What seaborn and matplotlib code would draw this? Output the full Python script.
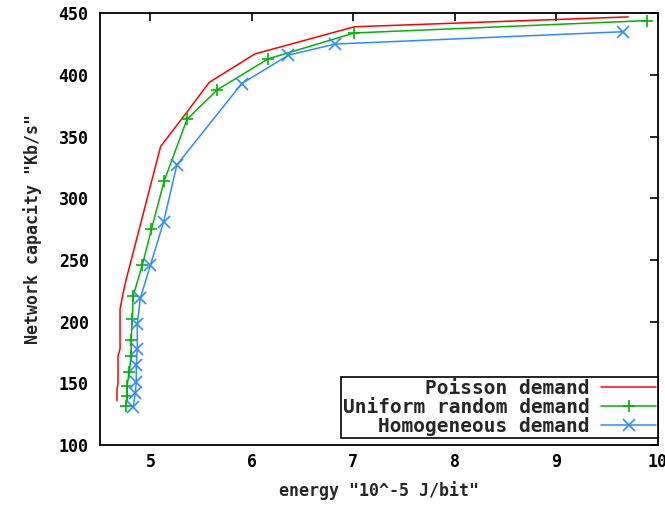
import matplotlib
matplotlib.use("Agg")
import matplotlib.pyplot as plt
import pandas as pd
import seaborn as sns

# energy (10^-5 J/bit) vs network capacity (Kb/s)
poisson_energy = [4.67, 4.67, 4.68, 4.68, 4.70, 4.70, 4.73, 4.76, 5.10, 5.37, 5.58, 6.03, 7.01, 9.71]
poisson_capacity = [136, 145, 150, 172, 178, 210, 223, 234, 342, 371, 394, 417, 439, 447]

uniform_energy = [4.76, 4.77, 4.77, 4.79, 4.81, 4.81, 4.82, 4.83, 4.92, 5.01, 5.135, 5.36, 5.66, 6.16, 7.01, 9.89]
uniform_capacity = [132, 140, 148, 159, 172, 185, 202, 221, 246, 275, 314, 364, 388, 413, 434, 444]

homog_energy = [4.83, 4.85, 4.86, 4.86, 4.87, 4.87, 4.90, 5.00, 5.13, 5.26, 5.90, 6.36, 6.82, 9.66]
homog_capacity = [131, 142, 151, 165, 178, 198, 219, 246, 281, 327, 393, 416, 425, 435]

labels = ["Poisson demand", "Uniform random demand", "Homogeneous demand"]
colors = ["#ff0000", "#00b400", "#2b8cff"]
markers = [None, "+", "x"]

sns.set_style("white")
plt.rcParams["font.family"] = ["DejaVu Sans Mono"]
plt.rcParams["font.weight"] = "bold"
plt.rcParams["font.size"] = 12

fig = plt.figure(figsize=(6.65, 5.08), dpi=100)
ax = fig.add_axes([0.150, 0.124, 0.839, 0.850])

series = [(poisson_energy, poisson_capacity), (uniform_energy, uniform_capacity), (homog_energy, homog_capacity)]
for (xs, ys), lab, col, mk in zip(series, labels, colors, markers):
    df = pd.DataFrame({"energy": xs, "capacity": ys})
    sns.lineplot(data=df, x="energy", y="capacity", sort=False, estimator=None, ax=ax,
                 color=col, linewidth=1.1, marker=mk, markersize=9, markeredgewidth=1.2,
                 markeredgecolor=col, label=lab)

ax.set_xlim(4.5, 10)
ax.set_ylim(100, 450)
ax.set_xticks([5, 6, 7, 8, 9, 10])
ax.set_yticks(range(100, 451, 50))
ax.tick_params(direction="in", length=6, width=1.2, top=True, right=True, colors="black",
               labelsize=12, pad=8)
ax.tick_params(axis="x", pad=6)
for lbl in ax.get_xticklabels() + ax.get_yticklabels():
    lbl.set_fontweight("bold")
for s in ax.spines.values():
    s.set_color("black")
    s.set_linewidth(1.3)

ax.set_xlabel('energy "10^-5 J/bit"', fontweight="bold", labelpad=7)
ax.set_ylabel('Network capacity "Kb/s"', fontweight="bold", labelpad=12)

leg = ax.legend(loc="lower right", bbox_to_anchor=(1.0, 0.016), markerfirst=False, frameon=True,
                fancybox=False, edgecolor="black", framealpha=1, borderpad=0.1, labelspacing=0.0,
                handlelength=2.8, handletextpad=0.6, borderaxespad=0,
                prop={"weight": "bold", "size": 14})
leg.get_frame().set_linewidth(1.2)
for t in leg.get_texts():
    t.set_ha("right")

fig.savefig("out.png", dpi=100)
plt.close(fig)
